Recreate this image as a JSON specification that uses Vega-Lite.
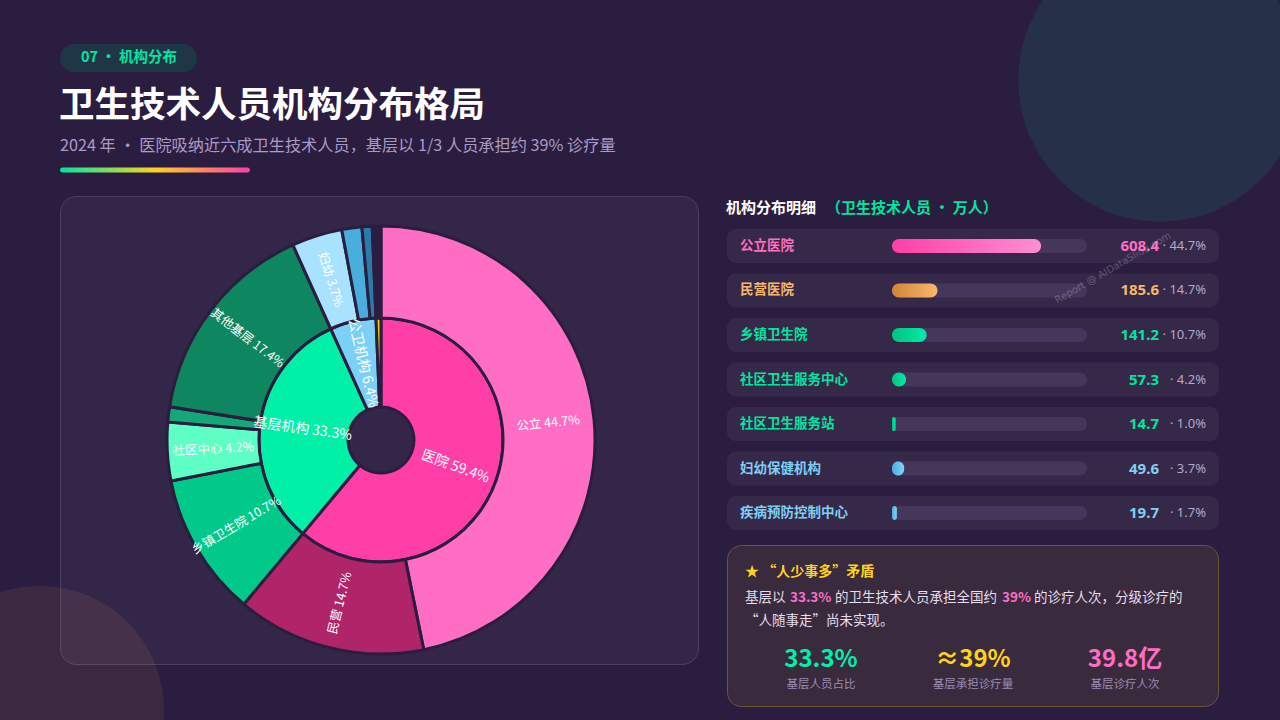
{
  "$schema": "https://vega.github.io/schema/vega-lite/v6.json",
  "width": 1280,
  "height": 720,
  "autosize": {"type": "none"},
  "padding": 0,
  "background": "#2b1d40",
  "config": {"view": {"stroke": null}, "font": "Noto Sans CJK SC", "text": {"font": "Noto Sans CJK SC"}},
  "data": {"values": [{}]},
  "datasets": {
    "inner": [
      {"name": "医院", "value": 794.0, "ord": 1, "label": "医院 59.4%"},
      {"name": "基层机构", "value": 418.2, "ord": 2, "label": "基层机构 33.3%"},
      {"name": "公卫机构", "value": 79.3, "ord": 3, "label": "公卫机构 6.4%"},
      {"name": "其他机构", "value": 8.5, "ord": 4, "label": ""}
    ],
    "outer": [
      {"name": "公立", "value": 608.4, "ord": 1, "label": "公立 44.7%"},
      {"name": "民营", "value": 185.6, "ord": 2, "label": "民营 14.7%"},
      {"name": "乡镇卫生院", "value": 141.2, "ord": 3, "label": "乡镇卫生院 10.7%"},
      {"name": "社区中心", "value": 57.3, "ord": 4, "label": "社区中心 4.2%"},
      {"name": "社区站", "value": 14.7, "ord": 5, "label": ""},
      {"name": "其他基层", "value": 205.0, "ord": 6, "label": "其他基层 17.4%"},
      {"name": "妇幼", "value": 49.6, "ord": 7, "label": "妇幼 3.7%"},
      {"name": "疾控", "value": 19.7, "ord": 8, "label": ""},
      {"name": "其他公卫", "value": 10.0, "ord": 9, "label": ""},
      {"name": "其他", "value": 8.5, "ord": 10, "label": ""}
    ],
    "rows": [
      {"name": "公立医院", "value": 608.4, "share": 44.7, "group": "pink"},
      {"name": "民营医院", "value": 185.6, "share": 14.7, "group": "orange"},
      {"name": "乡镇卫生院", "value": 141.2, "share": 10.7, "group": "green"},
      {"name": "社区卫生服务中心", "value": 57.3, "share": 4.2, "group": "green"},
      {"name": "社区卫生服务站", "value": 14.7, "share": 1.0, "group": "green"},
      {"name": "妇幼保健机构", "value": 49.6, "share": 3.7, "group": "blue"},
      {"name": "疾病预防控制中心", "value": 19.7, "share": 1.7, "group": "blue"}
    ]
  },
  "resolve": {"scale": {"color": "independent"}},
  "layer": [
    {"mark": {"type": "point", "shape": "circle", "filled": true, "size": 80425, "color": "#263049", "opacity": 1, "strokeWidth": 0},
     "encoding": {"x": {"value": 1160}, "y": {"value": 80}}},
    {"mark": {"type": "point", "shape": "circle", "filled": true, "size": 61575, "color": "#3d2841", "opacity": 1, "strokeWidth": 0},
     "encoding": {"x": {"value": 40}, "y": {"value": 710}}},
    {"mark": {"type": "rect", "cornerRadius": 16, "fill": "#ffffff", "fillOpacity": 0.045, "stroke": "#ffffff", "strokeOpacity": 0.14, "strokeWidth": 1},
     "encoding": {"x": {"value": 60.5}, "x2": {"value": 698.5}, "y": {"value": 196.5}, "y2": {"value": 664.5}}},
    {"mark": {"type": "rect", "cornerRadius": 14, "fill": "#1f3647"},
     "encoding": {"x": {"value": 60}, "x2": {"value": 197}, "y": {"value": 44}, "y2": {"value": 72}}},
    {"mark": {"type": "text", "text": "07 · 机构分布", "fontSize": 14.5, "fontWeight": "bold", "color": "#00e6a0", "align": "center", "baseline": "middle"},
     "encoding": {"x": {"value": 129}, "y": {"value": 58}}},
    {"mark": {"type": "text", "text": "卫生技术人员机构分布格局", "fontSize": 35.5, "fontWeight": "bold", "color": "#ffffff", "align": "left", "baseline": "middle"},
     "encoding": {"x": {"value": 59}, "y": {"value": 106}}},
    {"mark": {"type": "text", "text": "2024 年 · 医院吸纳近六成卫生技术人员，基层以 1/3 人员承担约 39% 诊疗量", "fontSize": 16.2, "color": "#a99bc4", "align": "left", "baseline": "middle"},
     "encoding": {"x": {"value": 60}, "y": {"value": 146}}},
    {"mark": {"type": "rect", "cornerRadius": 2.5,
      "fill": {"gradient": "linear", "x1": 0, "y1": 0, "x2": 1, "y2": 0, "stops": [{"offset": 0, "color": "#00e6a0"}, {"offset": 0.5, "color": "#ffd21e"}, {"offset": 1, "color": "#ff3ea8"}]}},
     "encoding": {"x": {"value": 60}, "x2": {"value": 250}, "y": {"value": 167.5}, "y2": {"value": 172.5}}},
    {"data": {"name": "inner"},
     "mark": {"type": "arc", "radius2": 33, "radius": 122, "stroke": "#2b1d40", "strokeWidth": 3},
     "encoding": {
       "x": {"value": 381}, "y": {"value": 440},
       "theta": {"field": "value", "type": "quantitative", "stack": true},
       "order": {"field": "ord", "type": "quantitative"},
       "color": {"field": "name", "type": "nominal", "legend": null,
         "scale": {"domain": ["医院", "基层机构", "公卫机构", "其他机构"], "range": ["#ff3ea8", "#00f0a8", "#7ccff5", "#f5c800"]}}
     }},
    {"data": {"name": "outer"},
     "mark": {"type": "arc", "radius2": 122, "radius": 214, "stroke": "#2b1d40", "strokeWidth": 3},
     "encoding": {
       "x": {"value": 381}, "y": {"value": 440},
       "theta": {"field": "value", "type": "quantitative", "stack": true},
       "order": {"field": "ord", "type": "quantitative"},
       "color": {"field": "name", "type": "nominal", "legend": null,
         "scale": {"domain": ["公立", "民营", "乡镇卫生院", "社区中心", "社区站", "其他基层", "妇幼", "疾控", "其他公卫", "其他"],
                   "range": ["#ff6ec4", "#b0246a", "#00c98a", "#5effc5", "#14a878", "#0e8660", "#a8e2ff", "#4aaedc", "#2d79a8", "#2b1d40"]}}
     }},
    {"data": {"name": "inner"},
     "transform": [
       {"joinaggregate": [{"op": "sum", "field": "value", "as": "total"}]},
       {"window": [{"op": "sum", "field": "value", "as": "cum"}], "sort": [{"field": "ord", "order": "ascending"}], "frame": [null, 0]},
       {"calculate": "(datum.cum - datum.value/2) / datum.total * 360", "as": "mid"},
       {"calculate": "datum.mid < 180 ? datum.mid - 90 : datum.mid + 90", "as": "rot"}
     ],
     "mark": {"type": "text", "radius": 79, "fontSize": 14, "color": "#ffffff", "align": "center", "baseline": "middle"},
     "encoding": {
       "x": {"value": 381}, "y": {"value": 440},
       "theta": {"field": "value", "type": "quantitative", "stack": true},
       "order": {"field": "ord", "type": "quantitative"},
       "angle": {"field": "rot", "type": "quantitative", "scale": null},
       "text": {"field": "label"}
     }},
    {"data": {"name": "outer"},
     "transform": [
       {"joinaggregate": [{"op": "sum", "field": "value", "as": "total"}]},
       {"window": [{"op": "sum", "field": "value", "as": "cum"}], "sort": [{"field": "ord", "order": "ascending"}], "frame": [null, 0]},
       {"calculate": "(datum.cum - datum.value/2) / datum.total * 360", "as": "mid"},
       {"calculate": "datum.mid < 180 ? datum.mid - 90 : datum.mid + 90", "as": "rot"}
     ],
     "mark": {"type": "text", "radius": 168, "fontSize": 12.5, "color": "#ffffff", "align": "center", "baseline": "middle"},
     "encoding": {
       "x": {"value": 381}, "y": {"value": 440},
       "theta": {"field": "value", "type": "quantitative", "stack": true},
       "order": {"field": "ord", "type": "quantitative"},
       "angle": {"field": "rot", "type": "quantitative", "scale": null},
       "text": {"field": "label"}
     }},
    {"mark": {"type": "text", "text": "机构分布明细", "fontSize": 15, "fontWeight": "bold", "color": "#ffffff", "align": "left", "baseline": "middle"},
     "encoding": {"x": {"value": 726}, "y": {"value": 208}}},
    {"mark": {"type": "text", "text": "（卫生技术人员 · 万人）", "fontSize": 15, "fontWeight": "bold", "color": "#00e6a0", "align": "left", "baseline": "middle"},
     "encoding": {"x": {"value": 826}, "y": {"value": 208}}},
    {"data": {"name": "rows"},
     "mark": {"type": "rect", "cornerRadius": 9, "fill": "#ffffff", "fillOpacity": 0.05},
     "encoding": {
       "x": {"value": 727}, "x2": {"value": 1219},
       "y": {"field": "name", "type": "nominal", "axis": null, "sort": null,
         "scale": {"type": "band", "domain": ["公立医院", "民营医院", "乡镇卫生院", "社区卫生服务中心", "社区卫生服务站", "妇幼保健机构", "疾病预防控制中心"], "range": [229, 530], "paddingInner": 0.236, "paddingOuter": 0}}
     }},
    {"data": {"name": "rows"},
     "mark": {"type": "bar", "height": 14, "cornerRadius": 7, "color": "#45375b"},
     "encoding": {
       "x": {"datum": 796, "type": "quantitative", "axis": null, "scale": {"domain": [0, 796], "range": [892, 1087]}},
       "y": {"field": "name", "type": "nominal", "axis": null, "sort": null,
         "scale": {"type": "band", "domain": ["公立医院", "民营医院", "乡镇卫生院", "社区卫生服务中心", "社区卫生服务站", "妇幼保健机构", "疾病预防控制中心"], "range": [229, 530], "paddingInner": 0.236, "paddingOuter": 0}}
     }},
    {"data": {"name": "rows"},
     "transform": [{"filter": "datum.group === 'pink'"}],
     "mark": {"type": "bar", "height": 14, "cornerRadius": 7,
       "fill": {"gradient": "linear", "x1": 0, "y1": 0, "x2": 1, "y2": 0, "stops": [{"offset": 0, "color": "#ff3ea8"}, {"offset": 1, "color": "#ff8fd2"}]}},
     "encoding": {
       "x": {"field": "value", "type": "quantitative", "stack": null, "axis": null, "scale": {"domain": [0, 796], "range": [892, 1087]}},
       "y": {"field": "name", "type": "nominal", "axis": null, "sort": null,
         "scale": {"type": "band", "domain": ["公立医院", "民营医院", "乡镇卫生院", "社区卫生服务中心", "社区卫生服务站", "妇幼保健机构", "疾病预防控制中心"], "range": [229, 530], "paddingInner": 0.236, "paddingOuter": 0}}
     }},
    {"data": {"name": "rows"},
     "transform": [{"filter": "datum.group === 'orange'"}],
     "mark": {"type": "bar", "height": 14, "cornerRadius": 7,
       "fill": {"gradient": "linear", "x1": 0, "y1": 0, "x2": 1, "y2": 0, "stops": [{"offset": 0, "color": "#d08538"}, {"offset": 1, "color": "#f7b96c"}]}},
     "encoding": {
       "x": {"field": "value", "type": "quantitative", "stack": null, "axis": null, "scale": {"domain": [0, 796], "range": [892, 1087]}},
       "y": {"field": "name", "type": "nominal", "axis": null, "sort": null,
         "scale": {"type": "band", "domain": ["公立医院", "民营医院", "乡镇卫生院", "社区卫生服务中心", "社区卫生服务站", "妇幼保健机构", "疾病预防控制中心"], "range": [229, 530], "paddingInner": 0.236, "paddingOuter": 0}}
     }},
    {"data": {"name": "rows"},
     "transform": [{"filter": "datum.group === 'green'"}],
     "mark": {"type": "bar", "height": 14, "cornerRadius": 7,
       "fill": {"gradient": "linear", "x1": 0, "y1": 0, "x2": 1, "y2": 0, "stops": [{"offset": 0, "color": "#00c282"}, {"offset": 1, "color": "#00eca6"}]}},
     "encoding": {
       "x": {"field": "value", "type": "quantitative", "stack": null, "axis": null, "scale": {"domain": [0, 796], "range": [892, 1087]}},
       "y": {"field": "name", "type": "nominal", "axis": null, "sort": null,
         "scale": {"type": "band", "domain": ["公立医院", "民营医院", "乡镇卫生院", "社区卫生服务中心", "社区卫生服务站", "妇幼保健机构", "疾病预防控制中心"], "range": [229, 530], "paddingInner": 0.236, "paddingOuter": 0}}
     }},
    {"data": {"name": "rows"},
     "transform": [{"filter": "datum.group === 'blue'"}],
     "mark": {"type": "bar", "height": 14, "cornerRadius": 7,
       "fill": {"gradient": "linear", "x1": 0, "y1": 0, "x2": 1, "y2": 0, "stops": [{"offset": 0, "color": "#4aaedc"}, {"offset": 1, "color": "#85d4f7"}]}},
     "encoding": {
       "x": {"field": "value", "type": "quantitative", "stack": null, "axis": null, "scale": {"domain": [0, 796], "range": [892, 1087]}},
       "y": {"field": "name", "type": "nominal", "axis": null, "sort": null,
         "scale": {"type": "band", "domain": ["公立医院", "民营医院", "乡镇卫生院", "社区卫生服务中心", "社区卫生服务站", "妇幼保健机构", "疾病预防控制中心"], "range": [229, 530], "paddingInner": 0.236, "paddingOuter": 0}}
     }},
    {"data": {"name": "rows"},
     "mark": {"type": "text", "fontSize": 13.5, "fontWeight": "bold", "align": "left", "baseline": "middle"},
     "encoding": {
       "x": {"value": 740},
       "y": {"field": "name", "type": "nominal", "axis": null, "sort": null,
         "scale": {"type": "band", "domain": ["公立医院", "民营医院", "乡镇卫生院", "社区卫生服务中心", "社区卫生服务站", "妇幼保健机构", "疾病预防控制中心"], "range": [229, 530], "paddingInner": 0.236, "paddingOuter": 0}},
       "text": {"field": "name"},
       "color": {"field": "group", "type": "nominal", "legend": null,
         "scale": {"domain": ["pink", "orange", "green", "blue"], "range": ["#ff6ec4", "#f7b868", "#00e6a0", "#7fcff2"]}}
     }},
    {"data": {"name": "rows"},
     "mark": {"type": "text", "font": "Noto Sans", "fontSize": 15, "fontWeight": "bold", "align": "right", "baseline": "middle"},
     "encoding": {
       "x": {"value": 1159},
       "y": {"field": "name", "type": "nominal", "axis": null, "sort": null,
         "scale": {"type": "band", "domain": ["公立医院", "民营医院", "乡镇卫生院", "社区卫生服务中心", "社区卫生服务站", "妇幼保健机构", "疾病预防控制中心"], "range": [229, 530], "paddingInner": 0.236, "paddingOuter": 0}},
       "text": {"field": "value", "type": "quantitative", "format": ".1f"},
       "color": {"field": "group", "type": "nominal", "legend": null,
         "scale": {"domain": ["pink", "orange", "green", "blue"], "range": ["#ff6ec4", "#f7b868", "#00e6a0", "#7fcff2"]}}
     }},
    {"data": {"name": "rows"},
     "transform": [{"calculate": "'· ' + format(datum.share, '.1f') + '%'", "as": "shareText"}],
     "mark": {"type": "text", "font": "Noto Sans", "fontSize": 13, "color": "#b3aacb", "align": "right", "baseline": "middle"},
     "encoding": {
       "x": {"value": 1206},
       "y": {"field": "name", "type": "nominal", "axis": null, "sort": null,
         "scale": {"type": "band", "domain": ["公立医院", "民营医院", "乡镇卫生院", "社区卫生服务中心", "社区卫生服务站", "妇幼保健机构", "疾病预防控制中心"], "range": [229, 530], "paddingInner": 0.236, "paddingOuter": 0}},
       "text": {"field": "shareText"}
     }},
    {"mark": {"type": "rect", "cornerRadius": 14, "fill": "#3a2a3d", "stroke": "#6e5436", "strokeWidth": 1},
     "encoding": {"x": {"value": 727.5}, "x2": {"value": 1218.5}, "y": {"value": 545.5}, "y2": {"value": 706.5}}},
    {"mark": {"type": "text", "text": "★ “人少事多”矛盾", "fontSize": 14, "fontWeight": "bold", "color": "#ffd21e", "align": "left", "baseline": "middle"},
     "encoding": {"x": {"value": 745}, "y": {"value": 572}}},
    {"mark": {"type": "text", "text": "基层以", "fontSize": 13.5, "color": "#e6def0", "align": "left", "baseline": "middle"},
     "encoding": {"x": {"value": 745}, "y": {"value": 598}}},
    {"mark": {"type": "text", "text": "33.3%", "fontSize": 13.5, "fontWeight": "bold", "color": "#ff6ec4", "align": "left", "baseline": "middle"},
     "encoding": {"x": {"value": 790}, "y": {"value": 598}}},
    {"mark": {"type": "text", "text": "的卫生技术人员承担全国约", "fontSize": 13.5, "color": "#e6def0", "align": "left", "baseline": "middle"},
     "encoding": {"x": {"value": 835}, "y": {"value": 598}}},
    {"mark": {"type": "text", "text": "39%", "fontSize": 13.5, "fontWeight": "bold", "color": "#ff6ec4", "align": "left", "baseline": "middle"},
     "encoding": {"x": {"value": 1002}, "y": {"value": 598}}},
    {"mark": {"type": "text", "text": "的诊疗人次，分级诊疗的", "fontSize": 13.5, "color": "#e6def0", "align": "left", "baseline": "middle"},
     "encoding": {"x": {"value": 1034}, "y": {"value": 598}}},
    {"mark": {"type": "text", "text": "“人随事走”尚未实现。", "fontSize": 13.5, "color": "#e6def0", "align": "left", "baseline": "middle"},
     "encoding": {"x": {"value": 745}, "y": {"value": 621}}},
    {"mark": {"type": "text", "text": "33.3%", "fontSize": 24, "fontWeight": "bold", "color": "#00f0a8", "align": "center", "baseline": "middle"},
     "encoding": {"x": {"value": 821}, "y": {"value": 660}}},
    {"mark": {"type": "text", "text": "≈39%", "fontSize": 24, "fontWeight": "bold", "color": "#ffd21e", "align": "center", "baseline": "middle"},
     "encoding": {"x": {"value": 973}, "y": {"value": 660}}},
    {"mark": {"type": "text", "text": "39.8亿", "fontSize": 24, "fontWeight": "bold", "color": "#ff6ec4", "align": "center", "baseline": "middle"},
     "encoding": {"x": {"value": 1125}, "y": {"value": 660}}},
    {"mark": {"type": "text", "text": "基层人员占比", "fontSize": 11.5, "color": "#9a8db5", "align": "center", "baseline": "middle"},
     "encoding": {"x": {"value": 821}, "y": {"value": 685}}},
    {"mark": {"type": "text", "text": "基层承担诊疗量", "fontSize": 11.5, "color": "#9a8db5", "align": "center", "baseline": "middle"},
     "encoding": {"x": {"value": 973}, "y": {"value": 685}}},
    {"mark": {"type": "text", "text": "基层诊疗人次", "fontSize": 11.5, "color": "#9a8db5", "align": "center", "baseline": "middle"},
     "encoding": {"x": {"value": 1125}, "y": {"value": 685}}},
    {"mark": {"type": "text", "text": "Report @ AIDataSlide.com", "fontSize": 10, "font": "DejaVu Sans", "color": "#ffffff", "opacity": 0.22, "angle": -30, "align": "center", "baseline": "middle"},
     "encoding": {"x": {"value": 1113}, "y": {"value": 268}}}
  ]
}
